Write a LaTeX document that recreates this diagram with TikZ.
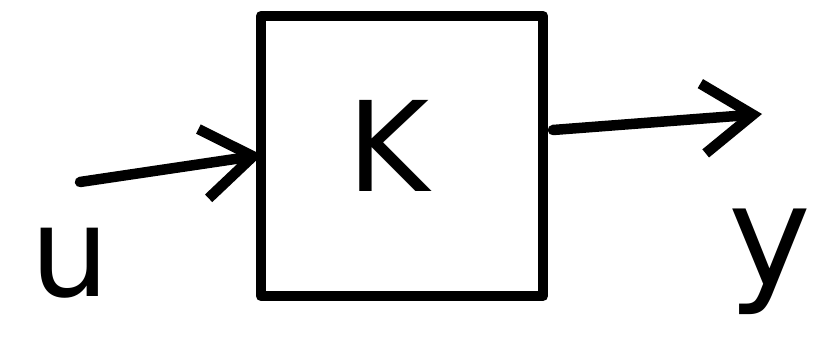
\documentclass[tikz,border=0pt]{standalone}
\usepackage{fontspec}
\setmainfont{DejaVu Sans}
\usetikzlibrary{arrows.meta}
\begin{document}
\begin{tikzpicture}[x=1pt,y=1pt,
  ink/.style={line width=10.5pt,line cap=round,line join=round,black},
  blockbox/.style={draw,ink,minimum width=282pt,minimum height=280pt,inner sep=0pt},
  sig/.style={ink,-{Straight Barb[length=50pt,width=70pt,line width=10.5pt]}},
  lbl/.style={inner sep=0pt,font=\fontsize{125}{125}\selectfont}]
\useasboundingbox (0,0) rectangle (813,342);
\node[blockbox] (K) at (402,186) {};
\node[lbl] (Klbl) at (388,196) {K};
\coordinate (uin) at (80,160);
\coordinate (Kin) at (262,187);
\coordinate (Kout) at (553,212);
\coordinate (yout) at (762,228);
\draw[sig] (uin) -- (Kin);
\draw[sig] (Kout) -- (yout);
\node[lbl] (ulbl) at (70,80) {u};
\node[lbl,font=\fontsize{140}{140}\selectfont] (ylbl) at (770,80) {y};
\end{tikzpicture}
\end{document}
